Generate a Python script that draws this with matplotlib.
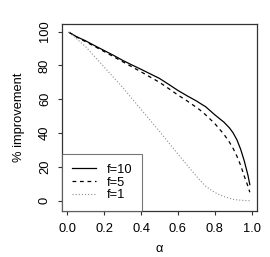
import matplotlib
matplotlib.use("Agg")
import matplotlib.pyplot as plt

plt.rcParams['font.family'] = ['Liberation Sans', 'DejaVu Sans']

# alpha values
alpha = [0.01, 0.05, 0.1, 0.15, 0.2, 0.25, 0.3, 0.35, 0.4, 0.45, 0.5, 0.55,
         0.6, 0.65, 0.7, 0.72, 0.75, 0.8, 0.85, 0.88, 0.9, 0.92, 0.94, 0.96,
         0.98, 0.99]

f10 = [99.5, 97.0, 94.5, 91.6, 88.8, 86.0, 83.0, 80.3, 77.7, 75.0, 72.3, 68.8,
       65.2, 62.0, 59.0, 57.6, 55.6, 50.8, 46.4, 43.0, 40.0, 36.0, 30.5, 23.5,
       15.0, 9.5]
f5 = [99.5, 96.8, 94.0, 91.1, 88.2, 85.2, 82.2, 79.2, 76.2, 73.1, 70.0, 66.3,
      62.5, 59.0, 55.2, 53.6, 50.8, 45.6, 39.2, 34.5, 30.8, 26.3, 21.0, 14.5,
      8.5, 5.0]
f1 = [99.5, 95.8, 91.0, 85.0, 79.0, 73.0, 67.0, 60.5, 54.0, 47.5, 41.0, 34.3,
      27.6, 21.0, 14.5, 12.0, 8.6, 4.8, 2.4, 1.4, 0.8, 0.5, 0.3, 0.1,
      0.0, 0.0]

x_ticks = [0.0, 0.2, 0.4, 0.6, 0.8, 1.0]
y_ticks = [0, 20, 40, 60, 80, 100]

fig = plt.figure(figsize=(2.70, 2.57), dpi=100)
ax = fig.add_axes([62 / 270, 1 - 211 / 257, 195 / 270, 187 / 257])

ax.plot(alpha, f10, color='black', lw=0.9, ls='-', label='f=10')
ax.plot(alpha, f5, color='black', lw=0.9, ls=(0, (3, 3)), label='f=5')
ax.plot(alpha, f1, color='0.55', lw=0.8, ls=(0, (1, 1.8)), label='f=1')

ax.set_xlim(-0.029, 1.029)
ax.set_ylim(-6.1, 104.5)
ax.set_xticks(x_ticks)
ax.set_xticklabels([f"{v:.1f}" for v in x_ticks])
ax.set_yticks(y_ticks)
ax.set_yticklabels([str(v) for v in y_ticks], rotation=90, va='center')

for s in ax.spines.values():
    s.set_color('#333333')
    s.set_linewidth(0.9)
ax.tick_params(direction='out', length=3, width=0.8, color='#333333',
               labelsize=9.3, labelcolor='black')
ax.tick_params(axis='x', pad=6)
ax.tick_params(axis='y', pad=5)

ax.set_xlabel('α', fontsize=9.3, va='center')
ax.set_ylabel('% improvement', fontsize=9.3, va='center')
ax.xaxis.set_label_coords(0.5, -0.205)
ax.yaxis.set_label_coords(-0.222, 0.5)

leg = ax.legend(loc='lower left', bbox_to_anchor=(0, 0), borderaxespad=0,
                fancybox=False, frameon=True, fontsize=9.3, handlelength=1.85,
                handletextpad=0.85, labelspacing=0.05, borderpad=0.75)
leg.get_frame().set_edgecolor('#555555')
leg.get_frame().set_linewidth(0.8)

fig.savefig('out.png', dpi=100)
